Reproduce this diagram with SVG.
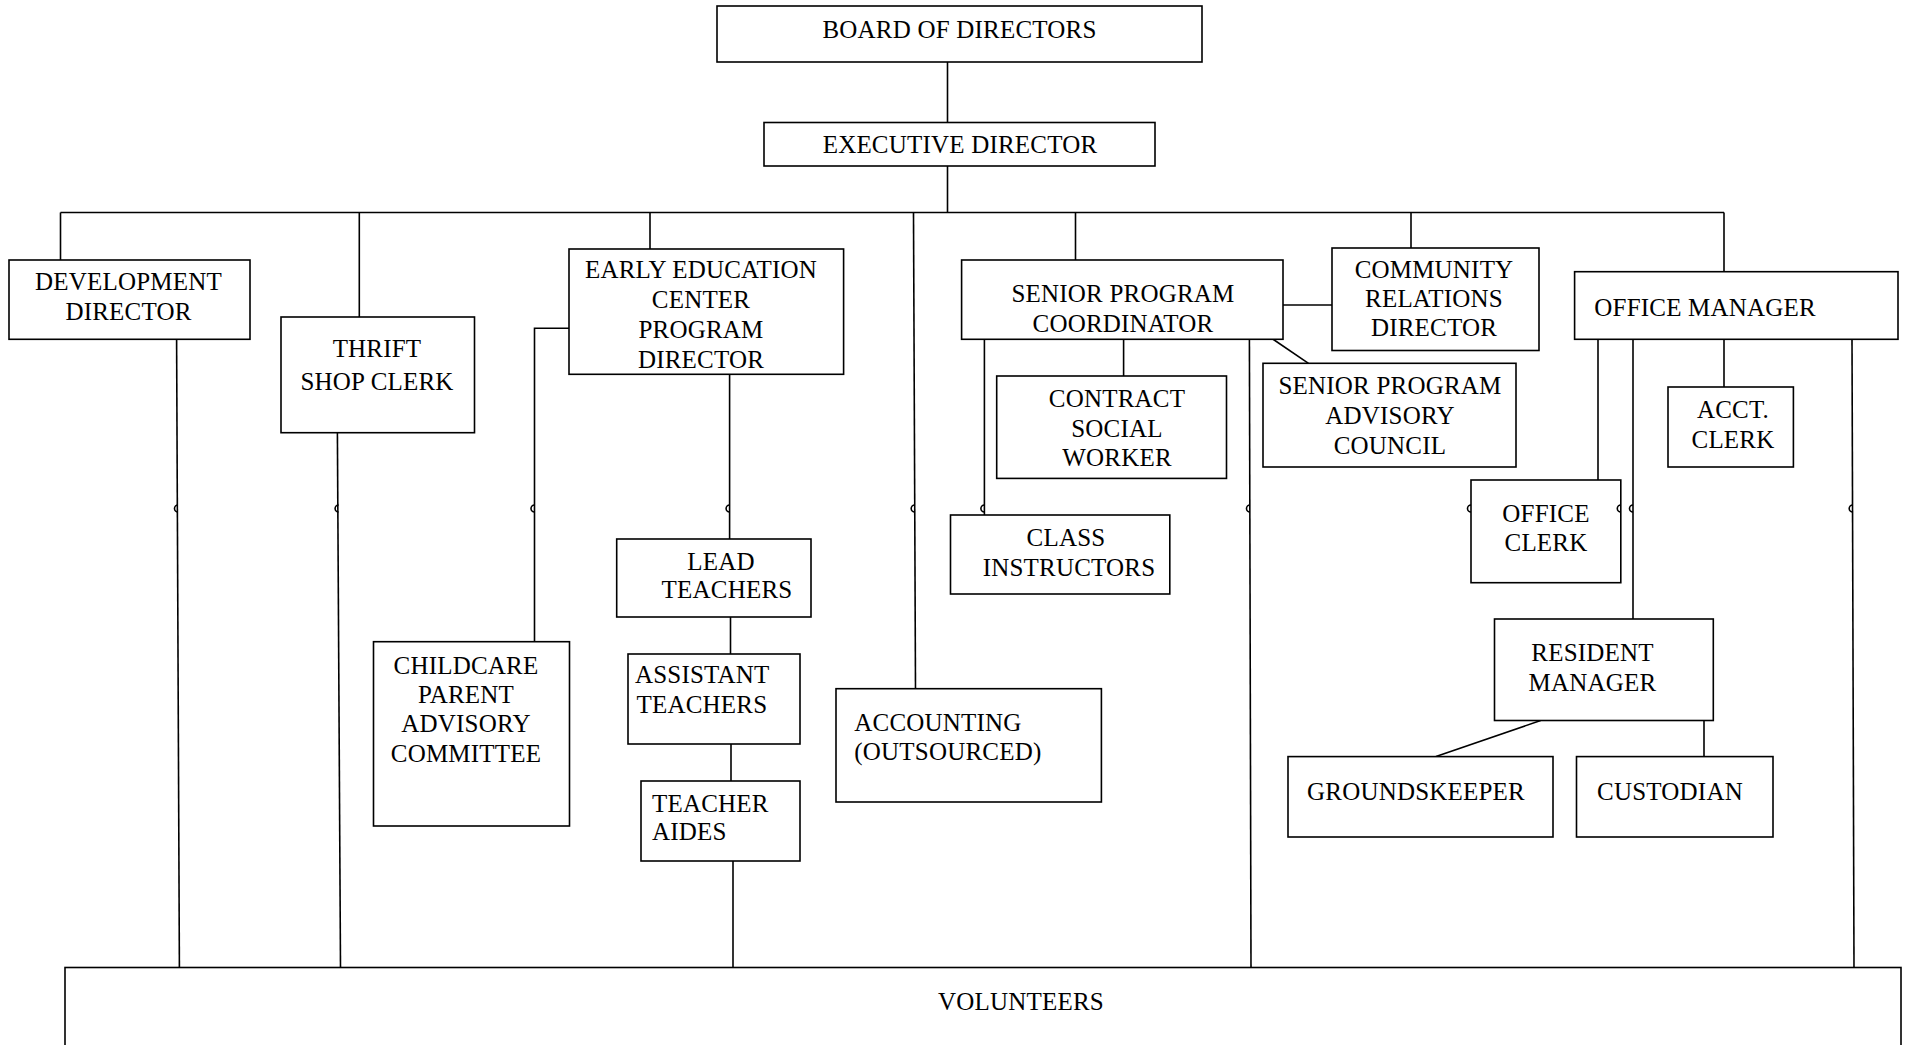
<svg xmlns="http://www.w3.org/2000/svg" width="1906" height="1045" viewBox="0 0 1906 1045">
<style>
.box{fill:#fff;stroke:#000;stroke-width:1.6}
.ln{fill:none;stroke:#000;stroke-width:1.6}
.t{font-family:"Liberation Serif","Times New Roman",serif;font-size:25px;fill:#000;letter-spacing:0.2px}
.m{text-anchor:middle}
</style>
<rect width="1906" height="1045" fill="#fff"/>
<g id="connectors" class="ln">
<path d="M947.5,62V122.5"/>
<path d="M947.5,166V212.5"/>
<path d="M60.5,212.5H1724"/>
<path d="M60.5,212.5V260"/>
<path d="M359.3,212.5V317"/>
<path d="M650,212.5V249"/>
<path d="M913.5,212.5L915.5,688.7"/>
<path d="M1075.5,212.5V260"/>
<path d="M1411,212.5V248"/>
<path d="M1724,212.5V271.7"/>
<path d="M176.6,339L179.4,967.5"/>
<path d="M337.4,432.7L340.5,967.5"/>
<path d="M569,328.3H534.5V641.7"/>
<path d="M729.6,374.3V539"/>
<path d="M730.5,617V654"/>
<path d="M731,744V781"/>
<path d="M733,861V967.5"/>
<path d="M1283,305H1332"/>
<path d="M984.4,339V515"/>
<path d="M1123.6,339V376"/>
<path d="M1249.4,339L1251,967.5"/>
<path d="M1272.7,339L1308.5,363.3"/>
<path d="M1598,339V480"/>
<path d="M1633,339V619"/>
<path d="M1724,339V387"/>
<path d="M1852,339L1854,967.5"/>
<path d="M1540.7,720.5L1436,756.6"/>
<path d="M1704,720.5V756.6"/>
</g>
<g id="nodes">
<g id="board"><rect class="box" x="717" y="6" width="485" height="56"/><text class="t m" x="959.5" y="38">BOARD OF DIRECTORS</text></g>
<g id="exec"><rect class="box" x="764" y="122.5" width="391" height="43.5"/><text class="t m" x="960" y="153">EXECUTIVE DIRECTOR</text></g>
<g id="dev"><rect class="box" x="9" y="260" width="241" height="79.3"/><text class="t m" x="128.5" y="290">DEVELOPMENT</text><text class="t m" x="128.5" y="320">DIRECTOR</text></g>
<g id="thrift"><rect class="box" x="281" y="317" width="193.5" height="115.7"/><text class="t m" x="377" y="357">THRIFT</text><text class="t m" x="377" y="390">SHOP CLERK</text></g>
<g id="eec"><rect class="box" x="569" y="249" width="274.6" height="125.3"/><text class="t m" x="701" y="278">EARLY EDUCATION</text><text class="t m" x="701" y="308">CENTER</text><text class="t m" x="701" y="338">PROGRAM</text><text class="t m" x="701" y="368">DIRECTOR</text></g>
<g id="childcare"><rect class="box" x="373.5" y="641.7" width="196" height="184.3"/><text class="t m" x="466" y="673.5">CHILDCARE</text><text class="t m" x="466" y="702.5">PARENT</text><text class="t m" x="466" y="732">ADVISORY</text><text class="t m" x="466" y="761.5">COMMITTEE</text></g>
<g id="lead"><rect class="box" x="616.7" y="539" width="194.3" height="78"/><text class="t m" x="721" y="570">LEAD</text><text class="t m" x="727" y="598">TEACHERS</text></g>
<g id="assistant"><rect class="box" x="628" y="654" width="172" height="90"/><text class="t" x="635" y="683">ASSISTANT</text><text class="t" x="636.5" y="713">TEACHERS</text></g>
<g id="aides"><rect class="box" x="641" y="781" width="159" height="80"/><text class="t" x="652" y="811.5">TEACHER</text><text class="t" x="652" y="840">AIDES</text></g>
<g id="accounting"><rect class="box" x="836" y="688.7" width="265.4" height="113.3"/><text class="t" x="854.3" y="731">ACCOUNTING</text><text class="t" x="854.3" y="760">(OUTSOURCED)</text></g>
<g id="spc"><rect class="box" x="961.6" y="260" width="321.4" height="79.3"/><text class="t m" x="1123" y="301.5">SENIOR PROGRAM</text><text class="t m" x="1123" y="331.5">COORDINATOR</text></g>
<g id="crd"><rect class="box" x="1332" y="248" width="207" height="102.5"/><text class="t m" x="1434" y="278">COMMUNITY</text><text class="t m" x="1434" y="307">RELATIONS</text><text class="t m" x="1434" y="336">DIRECTOR</text></g>
<g id="csw"><rect class="box" x="996.7" y="376" width="229.8" height="102.4"/><text class="t m" x="1117" y="407">CONTRACT</text><text class="t m" x="1117" y="436.5">SOCIAL</text><text class="t m" x="1117" y="466">WORKER</text></g>
<g id="spac"><rect class="box" x="1263" y="363.3" width="253" height="103.7"/><text class="t m" x="1390" y="394">SENIOR PROGRAM</text><text class="t m" x="1390" y="424">ADVISORY</text><text class="t m" x="1390" y="454">COUNCIL</text></g>
<g id="class"><rect class="box" x="950.5" y="515" width="219.3" height="79"/><text class="t m" x="1066" y="546">CLASS</text><text class="t m" x="1069" y="576">INSTRUCTORS</text></g>
<g id="om"><rect class="box" x="1574.6" y="271.7" width="323.4" height="67.6"/><text class="t" x="1594.3" y="316">OFFICE MANAGER</text></g>
<g id="acct"><rect class="box" x="1668" y="387" width="125.4" height="80"/><text class="t m" x="1733" y="418">ACCT.</text><text class="t m" x="1733" y="448">CLERK</text></g>
<g id="oc"><rect class="box" x="1471" y="480" width="149.8" height="102.7"/><text class="t m" x="1546" y="522">OFFICE</text><text class="t m" x="1546" y="551">CLERK</text></g>
<g id="rm"><rect class="box" x="1494.5" y="619" width="218.8" height="101.5"/><text class="t m" x="1592.5" y="660.5">RESIDENT</text><text class="t m" x="1592.5" y="690.5">MANAGER</text></g>
<g id="grounds"><rect class="box" x="1288" y="756.6" width="265" height="80.4"/><text class="t m" x="1416" y="800">GROUNDSKEEPER</text></g>
<g id="custodian"><rect class="box" x="1576.5" y="756.6" width="196.5" height="80.4"/><text class="t m" x="1670" y="800">CUSTODIAN</text></g>
<g id="volunteers"><rect class="box" x="65" y="967.5" width="1836" height="132"/><text class="t m" x="1021" y="1010">VOLUNTEERS</text></g>
</g>
<g id="hops" class="ln" stroke-width="1.4">
<path d="M178,505A3.5,3.5 0 0 0 178,512"/>
<path d="M338.6,505A3.5,3.5 0 0 0 338.6,512"/>
<path d="M534.5,505A3.5,3.5 0 0 0 534.5,512"/>
<path d="M729.6,505A3.5,3.5 0 0 0 729.6,512"/>
<path d="M914.7,505A3.5,3.5 0 0 0 914.7,512"/>
<path d="M984.4,505A3.5,3.5 0 0 0 984.4,512"/>
<path d="M1250,505A3.5,3.5 0 0 0 1250,512"/>
<path d="M1471,505A3.5,3.5 0 0 0 1471,512"/>
<path d="M1620.8,505A3.5,3.5 0 0 0 1620.8,512"/>
<path d="M1633,505A3.5,3.5 0 0 0 1633,512"/>
<path d="M1852.7,505A3.5,3.5 0 0 0 1852.7,512"/>
</g>
</svg>
